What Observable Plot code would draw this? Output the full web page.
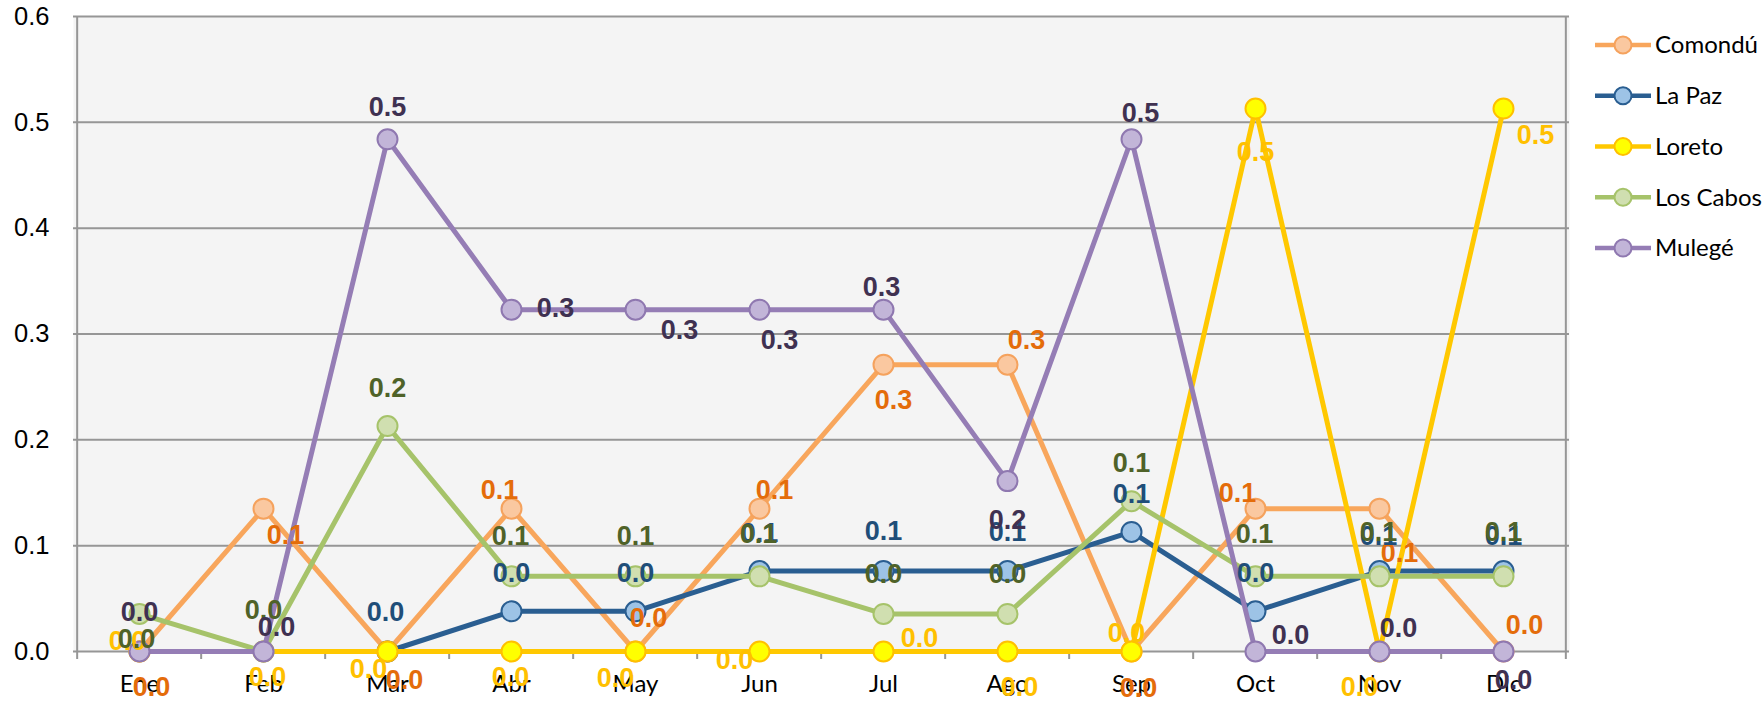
<!DOCTYPE html>
<html>
<head>
<meta charset="utf-8">
<script src="https://cdn.jsdelivr.net/npm/d3@7"></script>
<script src="https://cdn.jsdelivr.net/npm/@observablehq/plot@0.6"></script>
<style>
  html, body { margin: 0; padding: 0; background: #fff; }
  #chart { width: 1764px; height: 701px; }
</style>
</head>
<body>
<div id="chart"></div>
<script>
// ---- data ----
const months = ["Ene", "Feb", "Mar", "Abr", "May", "Jun", "Jul", "Ago", "Sep", "Oct", "Nov", "Dic"];
const seriesNames = ["Comondú", "La Paz", "Loreto", "Los Cabos", "Mulegé"];
const comondu  = [0, 0.135, 0, 0.135, 0, 0.135, 0.271, 0.271, 0, 0.135, 0.135, 0];
const laPaz    = [null, null, 0, 0.038, 0.038, 0.076, 0.076, 0.076, 0.113, 0.038, 0.076, 0.076];
const loreto   = [0, 0, 0, 0, 0, 0, 0, 0, 0, 0.513, 0, 0.513];
const losCabos = [0.0355, 0, 0.213, 0.071, 0.071, 0.071, 0.0355, 0.0355, 0.142, 0.071, 0.071, 0.071];
const mulege   = [0, 0, 0.484, 0.323, 0.323, 0.323, 0.323, 0.161, 0.484, 0, 0, 0];
const yTicks = [0, 0.1, 0.2, 0.3, 0.4, 0.5, 0.6];

// ---- label nudges (pixels, relative to each point) ----
const nudges = {
  "Comondú":  [[12,36],[22,27],[17,29],[-12,-18],[13,-33],[15,-18],[10,36],[19,-24],[7,37],[-18,-15],[20,45],[21,-26]],
  "La Paz":   [[0,0],[0,0],[-2,-39],[0,-38],[0,-38],[0,-38],[0,-40],[0,-39],[0,-38],[0,-38],[-1,-35],[0,-35]],
  "Loreto":   [[-12,-10],[4,26],[-19,18],[-1,26],[-20,27],[-25,9],[36,-13],[12,36],[-5,-18],[0,44],[-20,36],[32,27]],
  "Los Cabos":[[-3,25],[0,-41],[0,-38],[-1,-40],[0,-40],[-1,-42],[0,-40],[0,-40],[0,-38],[-1,-42],[-1,-44],[0,-44]],
  "Mulegé":   [[0,-39],[13,-24],[0,-32],[44,-1],[44,21],[20,31],[-2,-22],[0,39],[9,-26],[35,-16],[19,-23],[10,29]]
};

// ---- styles ----
const styles = {
  "Comondú":  {line: "#F8A65C", fill: "#FAC8A0", stroke: "#F5A25D", label: "#E46C0A"},
  "La Paz":   {line: "#2A5E91", fill: "#9DC3E6", stroke: "#2A5E91", label: "#1F4E79"},
  "Loreto":   {line: "#FFC800", fill: "#FFFF00", stroke: "#FFC000", label: "#FFC000"},
  "Los Cabos":{line: "#A6C36A", fill: "#D0DFB0", stroke: "#A6C36A", label: "#4F6228"},
  "Mulegé":   {line: "#957DB5", fill: "#C2B5D8", stroke: "#8F78B0", label: "#3F3151"}
};

const valuesBySeries = {"Comondú": comondu, "La Paz": laPaz, "Loreto": loreto, "Los Cabos": losCabos, "Mulegé": mulege};

const W = 1764, H = 701, ML = 73, MR = 195, MT = 16, MB = 50;
const step = (W - ML - MR) / months.length;
const fmt = d3.format(".1f");

const rows = {};
for (const s of seriesNames) {
  rows[s] = months.map((m, i) => ({series: s, month: m, value: valuesBySeries[s][i], i}));
}

const marks = [
  Plot.frame({fill: "#F4F4F4", stroke: null}),
  Plot.ruleY(yTicks, {stroke: "#969696", strokeWidth: 2}),
  Plot.ruleX([months[0]], {dx: -step / 2, stroke: "#969696", strokeWidth: 2}),
  Plot.ruleX([months[months.length - 1]], {dx: step / 2, stroke: "#969696", strokeWidth: 2}),
  // y tick marks
  Plot.ruleY(yTicks, {x1: months[0], x2: months[0], dx: -step / 2, insetLeft: -8, stroke: "#969696", strokeWidth: 2}),
  // x tick marks (between categories)
  Plot.ruleX(months, {y1: 0, y2: 0, dx: -step / 2, insetBottom: -8, stroke: "#969696", strokeWidth: 2}),
  Plot.ruleX([months[months.length - 1]], {y1: 0, y2: 0, dx: step / 2, insetBottom: -8, stroke: "#969696", strokeWidth: 2}),
  Plot.axisY(yTicks, {tickSize: 0, tickPadding: 24, tickFormat: fmt, fontSize: 25.5, fontFamily: "Liberation Sans, Arial, sans-serif", fill: "#000", label: null}),
  Plot.axisX(months, {tickSize: 0, tickPadding: 23, fontSize: 24, fontFamily: "Lato, sans-serif", fill: "#000", label: null})
];

for (const s of seriesNames) {
  const st = styles[s];
  marks.push(Plot.line(rows[s], {x: "month", y: "value", stroke: st.line, strokeWidth: 5, curve: "linear"}));
  marks.push(Plot.dot(rows[s].filter(d => d.value != null), {x: "month", y: "value", r: 10, fill: st.fill, stroke: st.stroke, strokeWidth: 2}));
}

for (const s of seriesNames) {
  const st = styles[s];
  rows[s].forEach((d, i) => {
    if (d.value == null) return;
    const [dx, dy] = nudges[s][i];
    marks.push(Plot.text([d], {x: "month", y: "value", text: r => fmt(r.value), dx, dy,
      fill: st.label, fontSize: 27, fontWeight: "bold", fontFamily: "Liberation Sans, Arial, sans-serif"}));
  });
}

const chart = Plot.plot({
  width: W, height: H,
  marginLeft: ML, marginRight: MR, marginTop: MT, marginBottom: MB,
  style: {background: "#fff", overflow: "visible"},
  x: {type: "point", domain: months, padding: 0.5, label: null, axis: null},
  y: {domain: [0, 0.6], label: null, axis: null},
  marks
});

// ---- legend (inside the SVG, right side) ----
const svg = d3.select(chart);
const lg = svg.append("g").attr("text-anchor", "start");
const legendY = d3.scalePoint().domain(seriesNames).range([45, 248]);
seriesNames.forEach(s => {
  const st = styles[s];
  const y = legendY(s);
  const g = lg.append("g");
  g.append("line").attr("x1", 1595).attr("x2", 1651).attr("y1", y).attr("y2", y)
    .attr("stroke", st.line).attr("stroke-width", 4.5);
  g.append("circle").attr("cx", 1623).attr("cy", y).attr("r", 8.5)
    .attr("fill", st.fill).attr("stroke", st.stroke).attr("stroke-width", 2);
  g.append("text").attr("x", 1655).attr("y", y).attr("dy", "0.35em")
    .attr("text-anchor", "start")
    .attr("font-family", "Lato, sans-serif").attr("font-size", 24).attr("fill", "#000")
    .text(s);
});

document.getElementById("chart").appendChild(chart);
</script>
</body>
</html>
